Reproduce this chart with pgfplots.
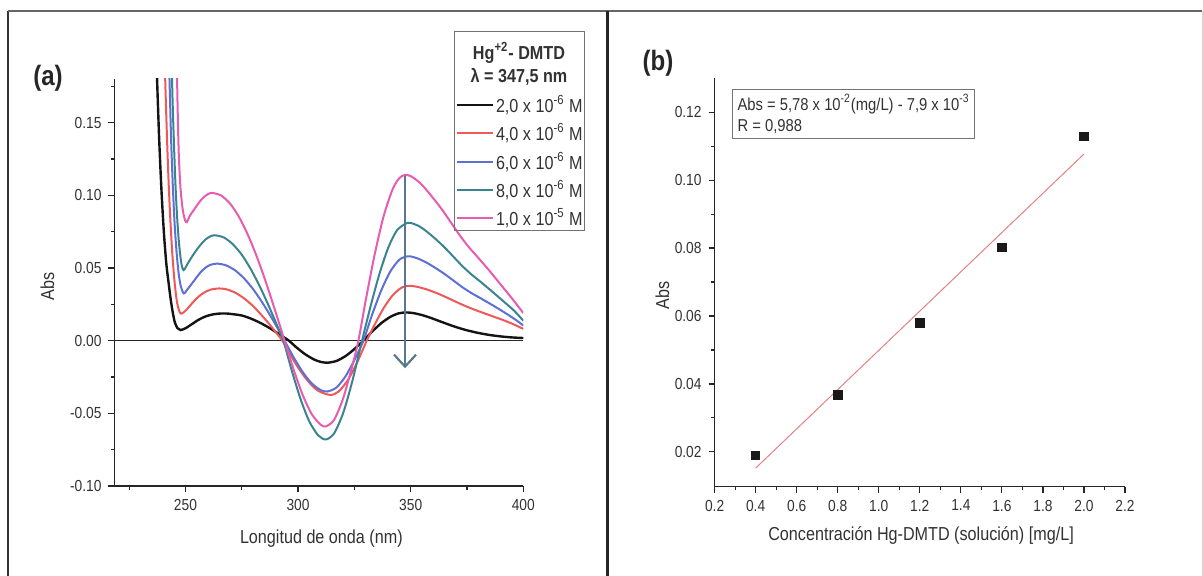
\documentclass[border=0pt]{standalone}
\usepackage{fontspec}
\setmainfont[FakeStretch=0.86]{Liberation Sans}
\usepackage{pgfplots}
\pgfplotsset{compat=1.18}
\usetikzlibrary{arrows.meta}
\definecolor{cblack}{RGB}{20,20,20}
\definecolor{cred}{RGB}{240,88,88}
\definecolor{cblue}{RGB}{92,112,214}
\definecolor{cteal}{RGB}{58,132,146}
\definecolor{cpink}{RGB}{230,92,176}
\definecolor{carrow}{RGB}{90,120,140}
\definecolor{cfit}{RGB}{226,130,130}
\definecolor{ctxt}{RGB}{50,50,50}
\begin{document}
\begin{tikzpicture}
\path[use as bounding box] (0,0) rectangle (601.5pt,288pt);
% frames
\draw[line width=1pt, black!80] (4pt,0) -- (4pt,282.5pt);
\draw[line width=0.8pt, black!60] (4pt,282.5pt) -- (601pt,282.5pt);
\draw[line width=1.5pt, black!85] (303.5pt,0) -- (303.5pt,282.5pt);
\draw[line width=0.4pt, black!15] (601pt,0) -- (601pt,282.5pt);

\pgfplotsset{
  mystyle/.style={
    scale only axis, anchor=south west,
    axis x line*=bottom, axis y line*=left,
    axis line style={black!85, line width=0.6pt},
    tick align=outside, major tick length=3pt, minor tick length=1.8pt,
    every tick/.style={black!85, line width=0.6pt},
    tick label style={font=\fontsize{8}{9}\selectfont, text=ctxt},
    label style={font=\fontsize{9.4}{11}\selectfont, text=ctxt},
    /pgf/number format/assume math mode=true,
  }
}

% ---------------- panel (a)
\begin{axis}[mystyle,
  at={(57.25pt,45pt)}, width=204.4pt, height=203.5pt,
  xmin=218.5, xmax=400, ymin=-0.10, ymax=0.18,
  xtick={250,300,350,400}, minor xtick={225,275,325,375},
  ytick={-0.1,-0.05,0,0.05,0.1,0.15},
  minor ytick={-0.075,-0.025,0.025,0.075,0.125,0.175},
  yticklabel style={/pgf/number format/.cd, fixed, fixed zerofill, precision=2, assume math mode=true},
  xlabel={Longitud de onda (nm)}, ylabel={Abs},
  xlabel style={at={(axis description cs:0.506,-0.130)}, anchor=center},
  ylabel style={at={(axis description cs:-0.164,0.49)}, anchor=center},
  every axis plot/.append style={smooth, tension=0.45},
]
\addplot[black!85, line width=0.5pt, sharp plot] coordinates {(218.5,0) (400,0)};
\addplot[cblack, line width=1.2pt] coordinates {
(236.8,0.21) (237.4,0.18) (238.3,0.14) (239.3,0.105) (240.4,0.075) (241.5,0.053) (242.5,0.040) (243.4,0.029) (244.3,0.020) (245.3,0.0125) (246.5,0.0085) (247.8,0.0073) (250,0.0085) (253,0.0115) (256,0.0145) (259,0.0167) (262,0.0180) (265,0.0186) (268,0.0187) (271,0.0182) (275,0.0173) (279,0.0152) (283,0.0124) (287,0.0090) (291,0.0051) (295.9,0) (299,-0.0043) (303,-0.0092) (307,-0.0129) (310,-0.0146) (313,-0.0152) (317,-0.0140) (321,-0.0107) (325,-0.0058) (329,0) (333,0.0064) (337,0.0121) (341,0.0164) (344.5,0.0187) (347.7,0.0194) (351,0.0190) (355,0.0176) (359,0.0156) (363,0.0133) (367,0.0110) (371,0.0089) (375,0.0071) (380,0.0053) (385,0.0039) (390,0.0029) (395,0.0022) (400,0.0018)};
\addplot[cred, line width=1.0pt] coordinates {
(240.5,0.21) (241.1,0.175) (241.8,0.14) (242.5,0.11) (243.3,0.083) (244.2,0.059) (245.2,0.040) (246.3,0.026) (247.8,0.0187) (250,0.0205) (252,0.024) (254,0.0275) (256,0.0305) (258,0.0328) (261,0.0350) (264.8,0.0359) (268,0.0354) (272,0.0331) (276,0.0291) (280,0.0238) (284,0.0172) (288,0.0099) (293,0) (297,-0.0109) (301,-0.0208) (305,-0.0289) (309,-0.0346) (314.3,-0.0374) (318,-0.0350) (322,-0.0274) (326,-0.0158) (330.5,0) (334,0.0110) (338,0.0224) (342,0.0312) (346,0.0365) (349,0.0377) (352,0.0373) (355,0.0362) (358,0.0348) (362,0.0324) (366,0.0297) (370,0.0268) (374,0.0240) (378,0.0215) (382,0.0192) (387,0.0164) (392,0.0136) (396,0.0110) (400,0.0081)};
\addplot[cblue, line width=1.0pt] coordinates {
(242.4,0.21) (243.0,0.175) (243.6,0.14) (244.3,0.11) (245.1,0.083) (246.0,0.062) (247,0.046) (248,0.037) (249.3,0.0325) (251,0.0355) (253,0.0395) (255,0.0437) (257,0.0475) (259,0.0503) (261,0.0521) (264,0.053) (268,0.0518) (272,0.0484) (276,0.0429) (280,0.0355) (284,0.0265) (288,0.0164) (291,0.0083) (294,0) (298,-0.0114) (302,-0.0215) (306,-0.0293) (310,-0.0340) (313,-0.035) (317,-0.0323) (321,-0.0247) (325,-0.0134) (329,0) (333,0.0184) (337,0.0348) (341,0.0477) (345,0.0557) (348.5,0.058) (351,0.0576) (354,0.056) (357,0.0537) (361,0.050) (365,0.0459) (369,0.0413) (373,0.0367) (377,0.0327) (381,0.0292) (386,0.0247) (391,0.0200) (396,0.0150) (400,0.0104)};
\addplot[cteal, line width=1.0pt] coordinates {
(243.6,0.21) (244.2,0.17) (244.8,0.14) (245.5,0.11) (246.3,0.085) (247.2,0.066) (248.2,0.053) (249.2,0.0485) (251,0.053) (253,0.058) (255,0.0625) (257,0.0665) (259,0.0697) (261,0.0717) (263,0.0725) (267,0.0710) (271,0.0664) (275,0.0591) (279,0.0492) (283,0.0373) (287,0.0238) (291,0.0093) (293.5,0) (297,-0.0195) (301,-0.0397) (305,-0.0556) (309,-0.0653) (312.4,-0.068) (316,-0.0638) (320,-0.0499) (324,-0.0284) (328.4,0) (332,0.0225) (336,0.0453) (340,0.0638) (344,0.0761) (348.5,0.081) (351,0.0805) (354,0.0785) (357,0.0752) (361,0.0700) (365,0.0642) (369,0.0577) (373,0.0512) (377,0.0455) (381,0.0405) (386,0.0340) (391,0.0273) (396,0.0205) (400,0.0137)};
\addplot[cpink, line width=1.0pt] coordinates {
(245.9,0.22) (246.4,0.17) (247.0,0.13) (247.8,0.105) (248.8,0.09) (249.8,0.083) (250.6,0.0815) (252,0.086) (254,0.0905) (256,0.095) (258,0.0985) (260,0.1008) (262,0.1016) (266,0.0997) (270,0.0939) (274,0.0845) (278,0.0718) (282,0.0565) (286,0.0389) (290,0.0198) (294,0) (298,-0.0198) (302,-0.0372) (306,-0.0504) (310,-0.0578) (312.4,-0.059) (316,-0.0545) (320,-0.0398) (324,-0.0178) (326.8,0) (330,0.0274) (334,0.0592) (338,0.0857) (342,0.1042) (345,0.1119) (347.5,0.114) (350,0.1132) (353,0.110) (356,0.1055) (360,0.098) (364,0.090) (368,0.081) (372,0.072) (376,0.064) (380,0.057) (385,0.048) (390,0.0385) (395,0.029) (400,0.019)};
\draw[carrow, line width=1.1pt, -{Straight Barb[length=6pt,width=11pt]}] (axis cs:347.5,0.113) -- (axis cs:347.5,-0.019);
\end{axis}

% legend (a)
\draw[black!55, line width=0.5pt] (227pt,172.5pt) rectangle (292pt,272pt);
\node[font=\bfseries\fontsize{9.4}{11}\selectfont, text=ctxt] at (259.5pt,261.5pt) {Hg\textsuperscript{+2}- DMTD};
\node[font=\bfseries\fontsize{9.4}{11}\selectfont, text=ctxt] at (259.5pt,249.5pt) {λ = 347,5 nm};
\foreach \y/\c/\t in {235.5/cblack/{2,0 x 10\textsuperscript{-6} M}, 221.5/cred/{4,0 x 10\textsuperscript{-6} M}, 207/cblue/{6,0 x 10\textsuperscript{-6} M}, 193/cteal/{8,0 x 10\textsuperscript{-6} M}, 179/cpink/{1,0 x 10\textsuperscript{-5} M}} {
  \draw[\c, line width=1.2pt] (228.3pt,\y pt) -- (246.7pt,\y pt);
  \node[anchor=west, inner sep=0pt, font=\fontsize{9.4}{11}\selectfont, text=ctxt] at (247.8pt,\y pt) {\t};
}
\node[font=\bfseries\fontsize{14}{16}\selectfont, text=black!85] at (24pt,249pt) {(a)};

% ---------------- panel (b)
\begin{axis}[mystyle,
  at={(357.3pt,44.6pt)}, width=205.2pt, height=204.25pt,
  xmin=0.2, xmax=2.2, ymin=0.0097, ymax=0.13,
  xtick={0.2,0.4,0.6,0.8,1.0,1.2,1.4,1.6,1.8,2.0,2.2},
  minor xtick={0.3,0.5,0.7,0.9,1.1,1.3,1.5,1.7,1.9,2.1},
  ytick={0.02,0.04,0.06,0.08,0.10,0.12},
  minor ytick={0.03,0.05,0.07,0.09,0.11},
  xticklabel style={/pgf/number format/.cd, fixed, fixed zerofill, precision=1, assume math mode=true},
  yticklabel style={/pgf/number format/.cd, fixed, fixed zerofill, precision=2, assume math mode=true},
  xlabel={Concentración Hg-DMTD (solución) [mg/L]}, ylabel={Abs},
  xlabel style={at={(axis description cs:0.503,-0.120)}, anchor=center},
  ylabel style={at={(axis description cs:-0.127,0.468)}, anchor=center},
]
\addplot[cfit, line width=0.5pt] coordinates {(0.4,0.0152) (2.0,0.1077)};
\addplot[only marks, mark=square*, mark size=2.1pt, black!90] coordinates {(0.4,0.0189) (0.8,0.0368) (1.2,0.058) (1.6,0.0802) (2.0,0.1129)};
\end{axis}
\node[draw=black!55, line width=0.5pt, anchor=north west, align=left, inner sep=2.5pt, font=\fontsize{8.6}{10.5}\selectfont, text=ctxt, minimum width=117pt, minimum height=23.5pt] at (366pt,243.5pt) {Abs = 5,78 x 10\textsuperscript{-2}(mg/L) - 7,9 x 10\textsuperscript{-3}\\R = 0,988};
\node[font=\bfseries\fontsize{14}{16}\selectfont, text=black!85] at (329pt,256.5pt) {(b)};
\end{tikzpicture}
\end{document}
